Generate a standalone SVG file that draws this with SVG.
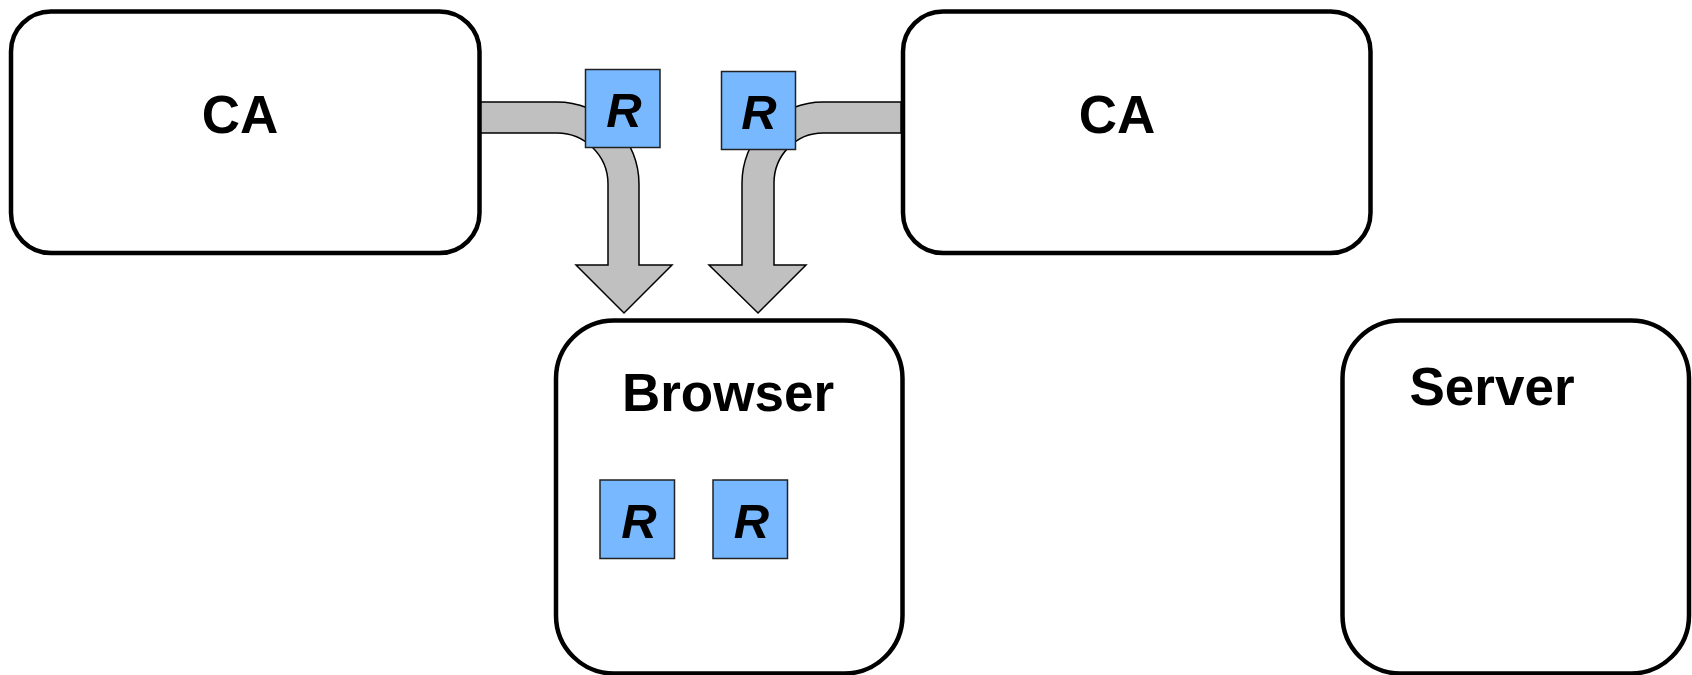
<svg xmlns="http://www.w3.org/2000/svg" width="1692" height="675" viewBox="0 0 1692 675">
  <style>
    .box { fill: #ffffff; stroke: #000000; stroke-width: 4.5; }
    .label { font-family: "Liberation Sans", Arial, sans-serif; font-weight: bold; font-size: 53px; fill: #000000; text-anchor: middle; }
    .token { fill: #77b8ff; stroke: #222222; stroke-width: 1.5; }
    .tlabel { font-family: "Liberation Sans", Arial, sans-serif; font-weight: bold; font-style: italic; font-size: 49px; fill: #000000; text-anchor: middle; }
    .flow { fill: #c0c0c0; stroke: #000000; stroke-width: 1.5; stroke-linejoin: miter; }
  </style>

  <rect width="1692" height="675" fill="#ffffff"/>

  <!-- Entity boxes -->
  <g id="ca-left">
    <rect class="box" x="11" y="11.5" width="468.5" height="241.5" rx="40" ry="40"/>
    <text class="label" x="240" y="133">CA</text>
  </g>

  <g id="ca-right">
    <rect class="box" x="903" y="11.5" width="467.5" height="241.5" rx="40" ry="40"/>
    <text class="label" x="1117" y="133">CA</text>
  </g>

  <g id="browser">
    <rect class="box" x="556" y="320.5" width="346.5" height="353" rx="58" ry="58"/>
    <text class="label" x="728" y="411">Browser</text>
  </g>

  <g id="server">
    <rect class="box" x="1342.5" y="320.5" width="346.5" height="353" rx="58" ry="58"/>
    <text class="label" x="1492" y="405">Server</text>
  </g>

  <!-- Bent flow arrows from each CA down into the browser -->
  <g id="connectors">
    <path class="flow" d="M 481 102 L 557 102 A 82 82 0 0 1 639 184 L 639 265 L 672 265 L 624 313 L 576 265 L 608 265 L 608 184 A 51 51 0 0 0 557 133 L 481 133 Z"/>
    <path class="flow" d="M 901 102 L 823 102 A 81 81 0 0 0 742 183 L 742 265 L 709 265 L 758 313 L 806 265 L 774 265 L 774 183 A 49 50 0 0 1 823 133 L 901 133 Z"/>
  </g>

  <!-- Root certificate tokens -->
  <g id="token-ca-left">
    <rect class="token" x="585.5" y="69.5" width="74.5" height="78"/>
    <text class="tlabel" x="624" y="126.5">R</text>
  </g>

  <g id="token-ca-right">
    <rect class="token" x="721.5" y="71.5" width="74" height="78"/>
    <text class="tlabel" x="759" y="128.5">R</text>
  </g>

  <g id="token-browser-1">
    <rect class="token" x="600" y="480" width="74.5" height="78.5"/>
    <text class="tlabel" x="639" y="538">R</text>
  </g>

  <g id="token-browser-2">
    <rect class="token" x="713" y="480" width="74.5" height="78.5"/>
    <text class="tlabel" x="751.5" y="538">R</text>
  </g>
</svg>
